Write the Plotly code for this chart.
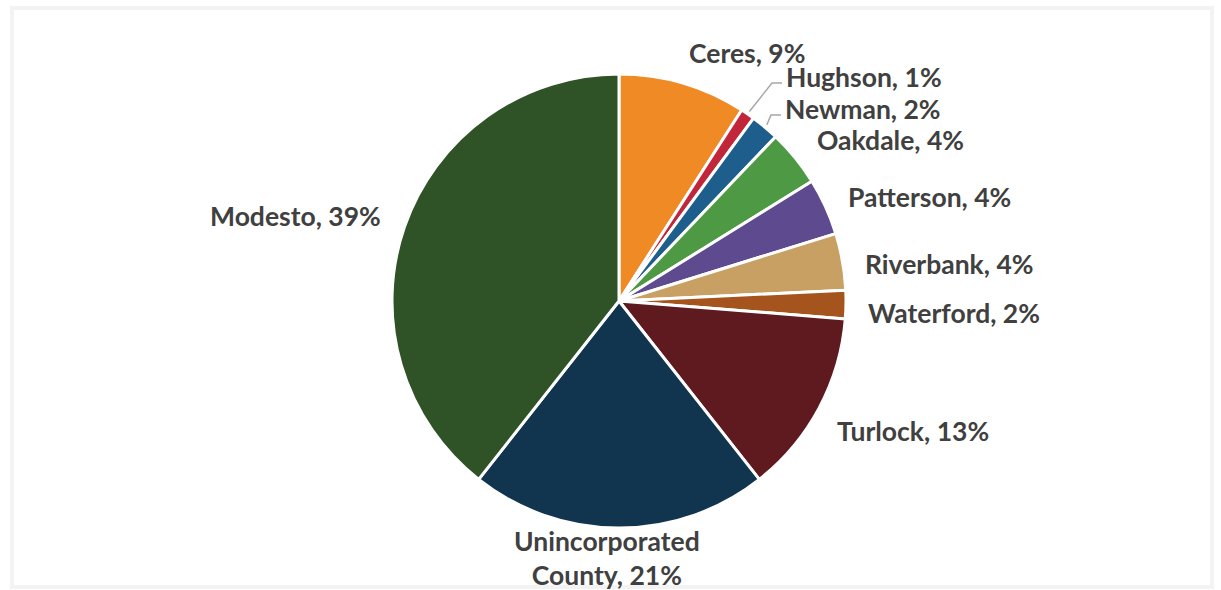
import math
import plotly.graph_objects as go

# Share of total by jurisdiction (percent)
places = ["Ceres", "Hughson", "Newman", "Oakdale", "Patterson", "Riverbank",
          "Waterford", "Turlock", "Unincorporated County", "Modesto"]
shares = [9, 1, 2, 4, 4, 4, 2, 13, 21, 39]
colors = ["#F08A24", "#C1263A", "#1E5E8C", "#4E9A44", "#5E4A8E", "#C9A064",
          "#A4541C", "#5F1A1F", "#11344F", "#2F5226"]

W, H = 1221, 590
CX, CY, R = 619, 301, 227

# label anchor (pixels) and alignment per jurisdiction
label_place = {
    "Ceres": (747, 53, "center"),
    "Hughson": (784, 77, "left"),
    "Newman": (783, 109, "left"),
    "Oakdale": (815, 140, "left"),
    "Patterson": (846, 197, "left"),
    "Riverbank": (863, 264, "left"),
    "Waterford": (866, 313, "left"),
    "Turlock": (835, 431, "left"),
    "Unincorporated County": (607, 558, "center"),
    "Modesto": (383, 216, "right"),
}
with_leader = {"Hughson", "Newman"}


def px(x):
    return x / W


def py(y):
    return 1 - y / H


fig = go.Figure(go.Pie(
    labels=places,
    values=shares,
    sort=False,
    direction="clockwise",
    rotation=0,
    marker=dict(colors=colors, line=dict(color="white", width=3)),
    textinfo="none",
    hoverinfo="label+percent",
    showlegend=False,
    domain=dict(x=[px(CX - R), px(CX + R)], y=[py(CY + R), py(CY - R)]),
))

total = sum(shares)
annotations = []
shapes = []
cum = 0
for name, v in zip(places, shares):
    mid = (cum + v / 2) / total * 2 * math.pi
    cum += v
    lx, ly, anchor = label_place[name]
    text = f"{name}, {v}%"
    if name == "Unincorporated County":
        text = f"Unincorporated<br>County, {v}%"
    annotations.append(dict(
        x=px(lx), y=py(ly), xref="paper", yref="paper",
        text=text, showarrow=False, xanchor=anchor, yanchor="middle",
        align="center",
        font=dict(family="Lato", size=26.5, color="#404040", weight="bold"),
    ))
    if name in with_leader:
        # leader from the slice rim to the label's left edge
        sx = CX + (R + 3) * math.sin(mid)
        sy = CY - (R + 3) * math.cos(mid)
        bend_x = lx - 12
        path = (f"M {px(sx)},{py(sy)} L {px(bend_x)},{py(ly + 6)} "
                f"L {px(lx - 2)},{py(ly + 6)}")
        shapes.append(dict(type="path", xref="paper", yref="paper", path=path,
                           line=dict(color="#A6A6A6", width=1.5)))

# faint outer frame
shapes.append(dict(type="rect", xref="paper", yref="paper",
                   x0=px(12), x1=px(1212), y0=py(587), y1=py(8),
                   line=dict(color="#F3F3F3", width=4), layer="below"))

fig.update_layout(
    width=W, height=H,
    margin=dict(l=0, r=0, t=0, b=0),
    paper_bgcolor="white",
    plot_bgcolor="white",
    annotations=annotations,
    shapes=shapes,
)

fig.write_html("out.html")
